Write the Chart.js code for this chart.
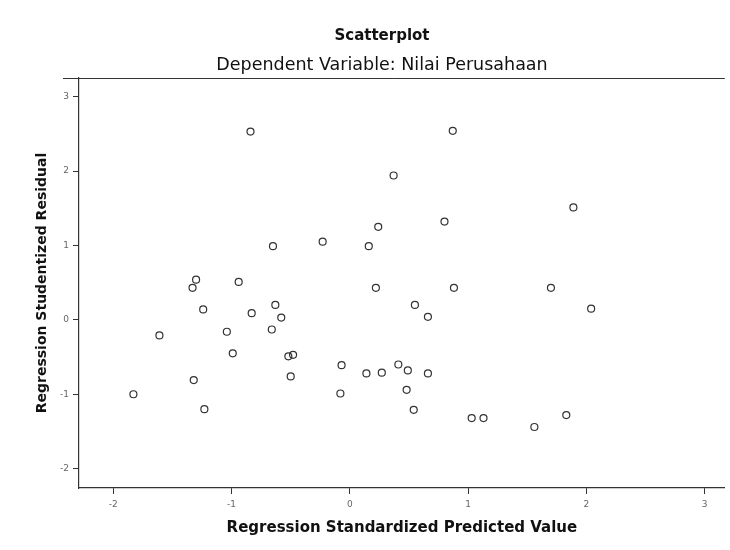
<!DOCTYPE html>
<html>
<head>
<meta charset="utf-8">
<script src="https://cdn.jsdelivr.net/npm/chart.js@4/dist/chart.umd.min.js"></script>
<style>
  body { margin: 0; background: #fff; }
  #wrap { width: 730px; height: 550px; }
</style>
</head>
<body>
<div id="wrap"><canvas id="chart"></canvas></div>
<script>
// standardized predicted value (x) and studentized residual (y)
const predicted = [
  -1.83, -1.61, -1.30, -1.33, -1.24, -1.32, -1.23, -1.04, -0.99, -0.94,
  -0.83, -0.84, -0.65, -0.63, -0.58, -0.66, -0.52, -0.48, -0.50, -0.23,
  -0.07, -0.08, 0.16, 0.24, 0.22, 0.14, 0.27, 0.37, 0.41, 0.49,
  0.48, 0.55, 0.54, 0.66, 0.66, 0.80, 0.87, 0.88, 1.03, 1.13,
  1.56, 1.70, 1.83, 1.89, 2.04
];
const residual = [
  -1.00, -0.21, 0.54, 0.43, 0.14, -0.81, -1.20, -0.16, -0.45, 0.51,
  0.09, 2.53, 0.99, 0.20, 0.03, -0.13, -0.49, -0.47, -0.76, 1.05,
  -0.61, -0.99, 0.99, 1.25, 0.43, -0.72, -0.71, 1.94, -0.60, -0.68,
  -0.94, 0.20, -1.21, -0.72, 0.04, 1.32, 2.54, 0.43, -1.32, -1.32,
  -1.44, 0.43, -1.28, 1.51, 0.15
];
const xTicks = [-2, -1, 0, 1, 2, 3];
const yTicks = [-2, -1, 0, 1, 2, 3];

const points = predicted.map((v, i) => ({ x: v, y: residual[i] }));

// top frame line like the original plot box
const frameTop = {
  id: 'frameTop',
  afterDraw(chart) {
    const { ctx, chartArea } = chart;
    ctx.save();
    ctx.strokeStyle = '#333';
    ctx.lineWidth = 1;
    ctx.beginPath();
    ctx.moveTo(chartArea.left - 16, chartArea.top + 0.5);
    ctx.lineTo(chartArea.right, chartArea.top + 0.5);
    ctx.stroke();
    ctx.restore();
  }
};

const FONT = '"DejaVu Sans", sans-serif';

new Chart(document.getElementById('chart'), {
  type: 'scatter',
  data: {
    datasets: [{
      data: points,
      pointStyle: 'circle',
      pointRadius: 3.5,
      pointBorderWidth: 1.2,
      borderColor: '#333',
      backgroundColor: 'rgba(255,255,255,0)'
    }]
  },
  options: {
    responsive: true,
    maintainAspectRatio: false,
    animation: false,
    layout: { padding: { left: 34, right: 0, top: 0, bottom: 0 } },
    plugins: {
      legend: { display: false },
      tooltip: { enabled: false },
      title: {
        display: true,
        text: 'Scatterplot',
        color: '#111',
        font: { family: FONT, size: 15, weight: 'bold', lineHeight: 1.2 },
        padding: { top: 27, bottom: 10 }
      },
      subtitle: {
        display: true,
        text: 'Dependent Variable: Nilai Perusahaan',
        color: '#111',
        font: { family: FONT, size: 17.5, weight: 'normal', lineHeight: 1.2 },
        padding: { top: 0, bottom: 2 }
      }
    },
    scales: {
      x: {
        type: 'linear',
        min: -2.29,
        max: 3.17,
        afterBuildTicks: s => { s.ticks = xTicks.map(v => ({ value: v })); },
        afterFit: s => { s.height = 62; },
        border: { display: true, color: '#333', width: 1.2 },
        grid: { drawOnChartArea: false, drawTicks: true, tickLength: 6, color: '#333' },
        ticks: { color: '#666', font: { family: FONT, size: 9 }, padding: 5, maxRotation: 0 },
        title: {
          display: true,
          text: 'Regression Standardized Predicted Value',
          color: '#111',
          font: { family: FONT, size: 15, weight: 'bold', lineHeight: 1.2 },
          padding: { top: 4, bottom: 13 }
        }
      },
      y: {
        type: 'linear',
        min: -2.26,
        max: 3.25,
        afterBuildTicks: s => { s.ticks = yTicks.map(v => ({ value: v })); },
        afterFit: s => { s.width = 45; },
        border: { display: true, color: '#333', width: 1.2 },
        grid: { drawOnChartArea: false, drawTicks: true, tickLength: 6, color: '#333' },
        ticks: { color: '#666', font: { family: FONT, size: 9 }, padding: 4 },
        title: {
          display: true,
          text: 'Regression Studentized Residual',
          color: '#111',
          font: { family: FONT, size: 14, weight: 'bold', lineHeight: 1.2 },
          padding: { top: 0, bottom: 4 }
        }
      }
    }
  },
  plugins: [frameTop]
});
</script>
</body>
</html>
